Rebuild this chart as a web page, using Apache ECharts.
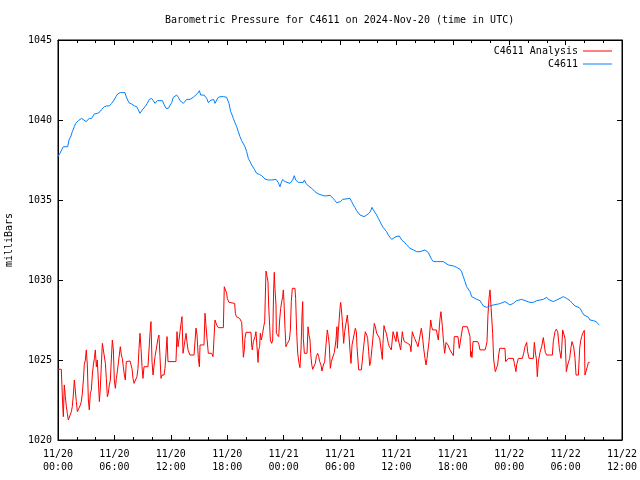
<!DOCTYPE html>
<html>
<head>
<meta charset="utf-8">
<script src="https://cdn.jsdelivr.net/npm/echarts@6/dist/echarts.min.js"></script>
<style>html,body{margin:0;padding:0;background:#fff;}#c{width:640px;height:480px;}</style>
</head>
<body>
<div id="c"></div>
<script>
// Hours since 2024-11-20 00:00 UTC
const xTickLabels = ['11/20\n00:00','11/20\n06:00','11/20\n12:00','11/20\n18:00','11/21\n00:00','11/21\n06:00','11/21\n12:00','11/21\n18:00','11/22\n00:00','11/22\n06:00','11/22\n12:00'];
const yTicks = [1020, 1025, 1030, 1035, 1040, 1045];

const analysisHours = [0.00,0.35,0.50,0.57,0.67,0.78,0.89,0.99,1.10,1.31,1.42,1.52,1.63,1.74,1.84,1.95,2.06,2.27,2.38,2.48,2.59,2.70,2.80,2.91,3.01,3.12,3.23,3.33,3.44,3.55,3.65,3.76,3.87,3.97,4.08,4.18,4.29,4.40,4.50,4.61,4.72,4.82,4.93,5.04,5.14,5.25,5.35,5.46,5.57,5.67,5.78,5.89,5.99,6.10,6.21,6.31,6.42,6.52,6.63,6.74,6.84,6.95,7.06,7.16,7.27,7.38,7.66,7.77,7.87,7.98,8.09,8.30,8.40,8.51,8.62,8.72,8.83,8.94,9.04,9.15,9.57,9.68,9.79,9.89,10.00,10.11,10.21,10.32,10.53,10.64,10.74,10.85,10.96,11.06,11.28,11.38,11.49,11.60,11.70,12.55,12.66,12.77,12.87,12.98,13.09,13.19,13.30,13.51,13.62,13.72,13.83,14.04,14.47,14.57,14.68,
14.79,14.93,15.04,15.11,15.53,15.64,15.82,15.99,16.35,16.49,16.70,16.88,17.06,17.59,17.69,17.84,17.94,18.01,18.19,18.79,18.87,18.97,19.33,19.54,19.64,19.72,19.82,19.89,20.00,20.53,20.60,20.67,20.78,20.96,21.06,21.17,21.28,21.35,21.45,21.52,21.63,21.77,21.88,21.99,22.06,22.13,22.27,22.34,22.41,22.52,22.59,22.73,22.84,22.94,23.01,23.08,23.19,23.23,23.33,23.48,23.58,23.69,23.83,23.90,23.97,24.04,24.15,24.25,24.40,24.61,24.72,24.82,24.93,25.21,25.28,25.39,25.50,25.64,25.74,25.85,25.96,26.03,26.10,26.21,26.49,26.60,26.70,26.81,26.88,26.99,27.09,27.27,27.38,27.48,27.62,27.73,27.84,27.98,28.08,28.23,28.37,28.51,28.65,28.76,28.86,28.97,29.08,29.22,29.40,
29.57,29.68,29.72,29.82,30.00,30.07,30.14,30.25,30.39,30.50,30.78,30.92,31.06,31.17,31.28,31.49,31.63,31.74,31.81,31.91,31.99,32.27,32.38,32.48,32.69,32.84,32.94,33.05,33.16,33.26,33.40,33.65,33.76,33.90,34.22,34.40,34.50,34.57,34.68,34.79,34.93,35.14,35.25,35.46,35.64,35.74,35.96,36.06,36.21,36.31,36.45,36.63,36.70,36.84,37.20,37.45,37.55,37.69,37.80,37.94,38.16,38.30,38.65,38.76,38.90,39.04,39.15,39.26,39.36,39.47,39.65,39.75,39.86,40.25,40.35,40.46,40.64,40.74,40.89,41.03,41.13,41.28,41.49,41.70,41.91,42.06,42.16,42.55,42.69,43.05,43.55,43.69,
43.83,43.90,43.97,44.04,44.15,44.65,44.79,44.89,45.43,45.53,45.64,45.74,45.85,45.96,46.13,46.24,46.35,46.52,46.67,46.77,46.88,46.99,47.55,47.62,47.73,47.91,48.44,48.55,48.72,48.79,48.97,49.40,49.54,49.68,49.86,49.96,50.11,50.57,50.67,50.82,50.89,50.99,51.10,51.28,51.45,51.63,51.74,51.84,51.98,52.59,52.69,52.87,53.01,53.16,53.33,53.51,53.58,53.69,53.79,53.94,54.08,54.22,54.43,54.57,54.68,54.86,55.00,55.11,55.36,55.50,55.60,55.71,55.82,55.89,55.99,56.06,56.21,56.31,56.42,56.56];

const analysisValues = [1024.42,1024.42,1022.19,1021.46,1023.44,1022.71,1022.08,1021.67,1021.25,1021.25,1021.77,1022.08,1022.81,1023.75,1023.75,1022.40,1021.77,1021.77,1022.19,1022.40,1022.92,1023.75,1024.73,1025.00,1025.63,1024.69,1022.50,1021.88,1022.92,1023.13,1024.06,1024.69,1025.10,1025.63,1024.58,1025.00,1023.75,1022.40,1023.23,1024.69,1026.04,1026.15,1025.94,1024.79,1023.85,1022.71,1022.92,1023.44,1023.75,1025.00,1026.25,1025.63,1023.75,1023.23,1023.85,1024.27,1024.31,1025.31,1025.83,1025.31,1025.10,1024.58,1024.06,1023.75,1024.90,1024.94,1024.94,1024.69,1024.48,1023.85,1023.54,1023.54,1023.96,1024.48,1025.73,1026.67,1025.73,1024.58,1023.85,1024.58,1024.58,1024.69,1026.67,1027.40,1024.90,1024.06,1024.06,1025.21,1025.31,1026.35,1026.56,1025.21,1023.85,1024.06,1024.06,1024.48,1025.42,1026.46,1024.90,1024.90,1026.77,1025.83,1026.25,1026.77,1027.29,1027.71,1025.42,1025.42,1026.67,1026.15,1025.63,1025.31,1025.31,1025.42,1027.00,
1026.56,1025.10,1024.58,1025.94,1025.94,1027.92,1026.56,1025.42,1025.42,1025.21,1027.50,1027.19,1027.02,1027.02,1029.58,1029.58,1029.17,1028.85,1028.60,1028.54,1027.92,1027.71,1027.60,1027.35,1026.25,1025.17,1025.63,1026.35,1026.73,1026.73,1025.94,1025.63,1026.15,1026.46,1026.77,1026.88,1024.85,1025.63,1025.83,1026.67,1026.25,1026.67,1027.08,1027.40,1029.06,1030.56,1030.56,1029.90,1028.44,1027.08,1026.25,1026.04,1026.25,1029.38,1030.48,1029.48,1028.44,1026.67,1026.56,1026.46,1027.50,1028.23,1028.75,1028.96,1029.38,1028.65,1026.98,1025.83,1026.04,1026.25,1026.88,1028.65,1029.48,1029.48,1028.85,1026.77,1025.42,1024.79,1024.52,1025.63,1027.81,1028.65,1026.35,1025.42,1025.42,1027.08,1026.56,1026.25,1025.42,1024.73,1024.42,1024.42,1024.79,1025.21,1025.42,1025.21,1024.90,1024.69,1024.31,1024.69,1024.90,1025.94,1026.88,1026.46,1025.94,1024.48,1024.90,1025.00,1025.48,
1026.25,1027.08,1025.73,1026.77,1028.23,1028.60,1028.23,1027.40,1026.04,1026.77,1027.81,1026.88,1025.63,1024.79,1025.94,1025.98,1026.98,1026.77,1025.83,1025.00,1024.38,1024.38,1025.00,1025.63,1026.77,1026.56,1026.35,1025.52,1024.65,1024.90,1025.73,1027.29,1027.08,1026.67,1026.35,1025.52,1025.04,1026.04,1027.15,1026.88,1026.67,1026.04,1025.83,1025.63,1026.77,1026.56,1026.15,1026.77,1026.25,1026.15,1025.63,1026.77,1026.46,1026.15,1026.04,1025.94,1025.52,1026.77,1026.56,1026.35,1026.04,1025.83,1026.98,1026.56,1025.73,1025.10,1024.69,1025.10,1025.63,1026.15,1027.50,1027.08,1026.88,1026.88,1026.56,1026.25,1027.60,1028.02,1027.08,1026.04,1025.42,1026.10,1025.94,1025.63,1025.42,1025.27,1026.46,1026.46,1025.73,1027.08,1027.08,1026.77,
1026.46,1025.21,1025.52,1025.15,1026.15,1026.15,1025.94,1025.63,1025.63,1025.83,1026.15,1027.81,1028.85,1029.38,1029.48,1026.67,1025.00,1024.27,1024.27,1024.69,1025.31,1025.73,1025.73,1024.90,1025.00,1025.10,1025.10,1024.79,1024.27,1024.69,1025.10,1025.10,1025.42,1025.83,1026.10,1025.52,1025.10,1025.10,1026.10,1025.31,1025.10,1023.96,1024.90,1025.48,1025.83,1026.40,1025.94,1025.48,1025.31,1025.31,1026.15,1026.77,1026.92,1026.77,1025.73,1025.10,1025.63,1026.88,1026.77,1026.35,1024.27,1024.69,1025.10,1025.77,1026.15,1025.83,1025.10,1024.06,1024.06,1025.73,1026.19,1026.46,1026.67,1026.77,1026.85,1024.06,1024.06,1024.58,1024.85,1024.85];

const stationHours = [0.00,0.21,0.39,0.57,1.03,1.17,1.38,1.52,1.74,1.88,2.02,2.16,2.34,2.52,2.73,2.98,3.16,3.33,3.58,3.79,3.87,4.22,4.47,4.65,4.93,5.18,5.46,5.71,5.96,6.17,6.35,6.63,7.13,7.23,7.41,7.55,7.84,8.12,8.37,8.55,8.72,8.97,9.26,9.50,9.72,9.96,10.14,10.32,10.57,11.10,11.31,11.49,11.74,11.91,12.09,12.27,12.45,12.62,12.80,12.98,13.16,13.33,13.51,13.69,13.87,14.04,14.22,14.40,14.57,14.86,15.04,15.18,15.53,15.82,16.00,16.17,16.35,16.56,16.70,16.88,17.06,17.34,17.59,17.77,17.94,18.05,18.19,18.37,18.48,18.65,18.83,19.01,19.18,19.36,19.54,19.72,19.89,20.07,20.25,20.43,20.60,20.89,
21.13,21.42,21.67,22.02,22.38,22.73,23.19,23.44,23.62,23.72,23.90,24.15,24.33,24.68,24.96,25.14,25.28,25.57,26.10,26.21,26.38,26.63,26.99,27.34,27.69,28.05,28.40,28.94,29.11,29.29,29.47,29.64,29.82,30.07,30.28,30.46,31.06,31.24,31.42,31.60,31.77,31.95,32.13,32.31,32.55,32.84,33.09,33.26,33.40,33.55,33.72,33.90,34.08,34.26,34.43,34.61,34.79,34.96,35.14,35.32,35.50,35.67,35.96,36.10,36.31,
36.56,36.74,36.91,37.09,37.27,37.45,37.62,37.80,38.16,38.51,38.69,39.04,39.22,39.40,39.57,39.75,39.93,40.11,40.28,40.64,40.82,40.99,41.17,41.52,41.70,42.06,42.23,42.41,42.59,42.77,42.94,43.12,43.30,43.47,43.65,43.83,44.01,44.18,44.54,44.89,45.07,45.25,45.43,45.60,45.78,45.96,46.13,46.31,46.49,46.84,47.09,47.27,47.55,47.73,48.09,48.26,48.44,48.62,48.79,48.97,49.33,49.68,49.86,50.21,50.57,50.74,50.92,51.28,51.63,51.81,51.99,52.16,52.34,52.70,52.87,53.05,53.40,53.76,53.94,54.11,54.29,54.47,54.65,54.82,55.00,55.18,55.46,55.64,55.78,55.96,56.17,56.42,56.60,56.95,57.23,57.38,57.59];

const stationValues = [1037.71,1037.92,1038.13,1038.33,1038.33,1038.75,1039.00,1039.27,1039.58,1039.79,1039.90,1039.96,1040.04,1040.10,1040.04,1039.90,1040.00,1040.10,1040.10,1040.17,1040.38,1040.42,1040.52,1040.67,1040.83,1040.88,1040.88,1041.04,1041.25,1041.46,1041.63,1041.71,1041.71,1041.50,1041.25,1041.08,1041.00,1040.88,1040.83,1040.63,1040.42,1040.63,1040.83,1041.04,1041.29,1041.35,1041.21,1041.04,1041.21,1041.21,1040.94,1040.73,1040.73,1040.83,1041.08,1041.42,1041.50,1041.56,1041.42,1041.21,1041.29,1041.04,1041.15,1041.29,1041.25,1041.29,1041.35,1041.42,1041.50,1041.67,1041.83,1041.56,1041.56,1041.35,1041.08,1041.21,1041.21,1041.29,1041.04,1041.25,1041.42,1041.46,1041.46,1041.56,1041.42,1041.25,1041.04,1040.52,1040.38,1040.10,1039.83,1039.58,1039.27,1038.96,1038.71,1038.65,1038.33,1038.02,1037.60,1037.40,1037.19,1036.92,
1036.67,1036.60,1036.52,1036.31,1036.25,1036.25,1036.29,1036.08,1035.83,1036.04,1036.29,1036.15,1036.04,1036.04,1036.25,1036.52,1036.25,1036.10,1036.10,1036.25,1036.04,1035.88,1035.73,1035.52,1035.38,1035.31,1035.25,1035.29,1035.21,1035.10,1034.96,1034.83,1034.90,1034.90,1035.04,1035.10,1035.10,1034.90,1034.69,1034.52,1034.33,1034.21,1034.06,1033.96,1033.96,1034.06,1034.17,1034.31,1034.54,1034.38,1034.27,1034.06,1033.85,1033.65,1033.44,1033.27,1033.17,1033.02,1032.81,1032.67,1032.54,1032.60,1032.71,1032.81,1032.75,
1032.50,1032.40,1032.33,1032.19,1032.08,1031.98,1031.92,1031.88,1031.77,1031.77,1031.83,1031.88,1031.83,1031.71,1031.50,1031.29,1031.15,1031.21,1031.15,1031.15,1031.25,1031.15,1031.04,1030.94,1030.88,1030.88,1030.83,1030.79,1030.73,1030.67,1030.52,1030.21,1029.90,1029.58,1029.48,1029.27,1028.96,1028.85,1028.79,1028.71,1028.54,1028.38,1028.27,1028.29,1028.27,1028.38,1028.33,1028.44,1028.50,1028.50,1028.54,1028.58,1028.65,1028.58,1028.44,1028.50,1028.54,1028.63,1028.71,1028.79,1028.79,1028.71,1028.65,1028.60,1028.60,1028.54,1028.71,1028.75,1028.79,1028.90,1028.92,1028.79,1028.71,1028.65,1028.71,1028.75,1028.85,1028.96,1028.92,1028.85,1028.75,1028.71,1028.58,1028.50,1028.38,1028.33,1028.27,1028.13,1027.96,1027.81,1027.75,1027.67,1027.50,1027.46,1027.40,1027.29,1027.19];

const analysisData = analysisHours.map((h, i) => [h, analysisValues[i]]);
const stationData = stationHours.map((h, i) => [h, stationValues[i]]);

const FONT = '"DejaVu Sans Mono", "Liberation Mono", monospace';
const chart = echarts.init(document.getElementById('c'), null, {renderer: 'canvas'});

const xCommon = {
  type: 'value', min: 0, max: 60, interval: 6,
  axisLine: {show: true, onZero: false, lineStyle: {color: '#000', width: 1}},
  axisTick: {show: true, inside: true, length: 5, lineStyle: {color: '#000'}},
  minorTick: {show: true, splitNumber: 3, length: 3, lineStyle: {color: '#000'}},
  splitLine: {show: false}
};
const yCommon = {
  type: 'value', min: yTicks[0], max: yTicks[yTicks.length - 1], interval: 5,
  axisLine: {show: true, onZero: false, lineStyle: {color: '#000', width: 1}},
  axisTick: {show: true, inside: true, length: 5, lineStyle: {color: '#000'}},
  splitLine: {show: false}
};

chart.setOption({
  animation: false,
  backgroundColor: '#fff',
  title: {
    text: 'Barometric Pressure for C4611 on 2024-Nov-20 (time in UTC)',
    left: 165, top: 15, padding: 0,
    textStyle: {fontFamily: FONT, fontSize: 10, fontWeight: 'normal', color: '#000'}
  },
  legend: [
    {data: ['C4611 Analysis'], right: 28, top: 46, padding: 0, align: 'right', icon: 'rect', itemWidth: 29, itemHeight: 1,
     textStyle: {fontFamily: FONT, fontSize: 10, color: '#000'}},
    {data: ['C4611'], right: 28, top: 59, padding: 0, align: 'right', icon: 'rect', itemWidth: 29, itemHeight: 1,
     textStyle: {fontFamily: FONT, fontSize: 10, color: '#000'}}
  ],
  grid: {left: 58, right: 18, top: 40, bottom: 40, containLabel: false, outerBoundsMode: 'none',
         show: true, borderColor: '#000', borderWidth: 1, backgroundColor: 'transparent'},
  xAxis: [
    Object.assign({}, xCommon, {position: 'bottom',
      axisLabel: {show: true, margin: 8, lineHeight: 13, fontFamily: FONT, fontSize: 10, color: '#000',
        formatter: v => xTickLabels[Math.round(v / 6)] || ''}}),
    Object.assign({}, xCommon, {position: 'top', axisLabel: {show: false}})
  ],
  yAxis: [
    Object.assign({}, yCommon, {position: 'left', name: 'milliBars', nameLocation: 'middle', nameGap: 44, nameRotate: 90,
      nameTextStyle: {fontFamily: FONT, fontSize: 10, color: '#000'},
      axisLabel: {show: true, margin: 6, fontFamily: FONT, fontSize: 10, color: '#000',
        formatter: v => String(v)}}),
    Object.assign({}, yCommon, {position: 'right', axisLabel: {show: false}})
  ],
  series: [
    {name: 'C4611 Analysis', type: 'line', data: analysisData, showSymbol: false, symbol: 'none',
     lineStyle: {color: '#ff0000', width: 1}, itemStyle: {color: '#ff0000'}, z: 2},
    {name: 'C4611', type: 'line', data: stationData, showSymbol: false, symbol: 'none',
     lineStyle: {color: '#0080ff', width: 1}, itemStyle: {color: '#0080ff'}, z: 3}
  ]
});
</script>
</body>
</html>
